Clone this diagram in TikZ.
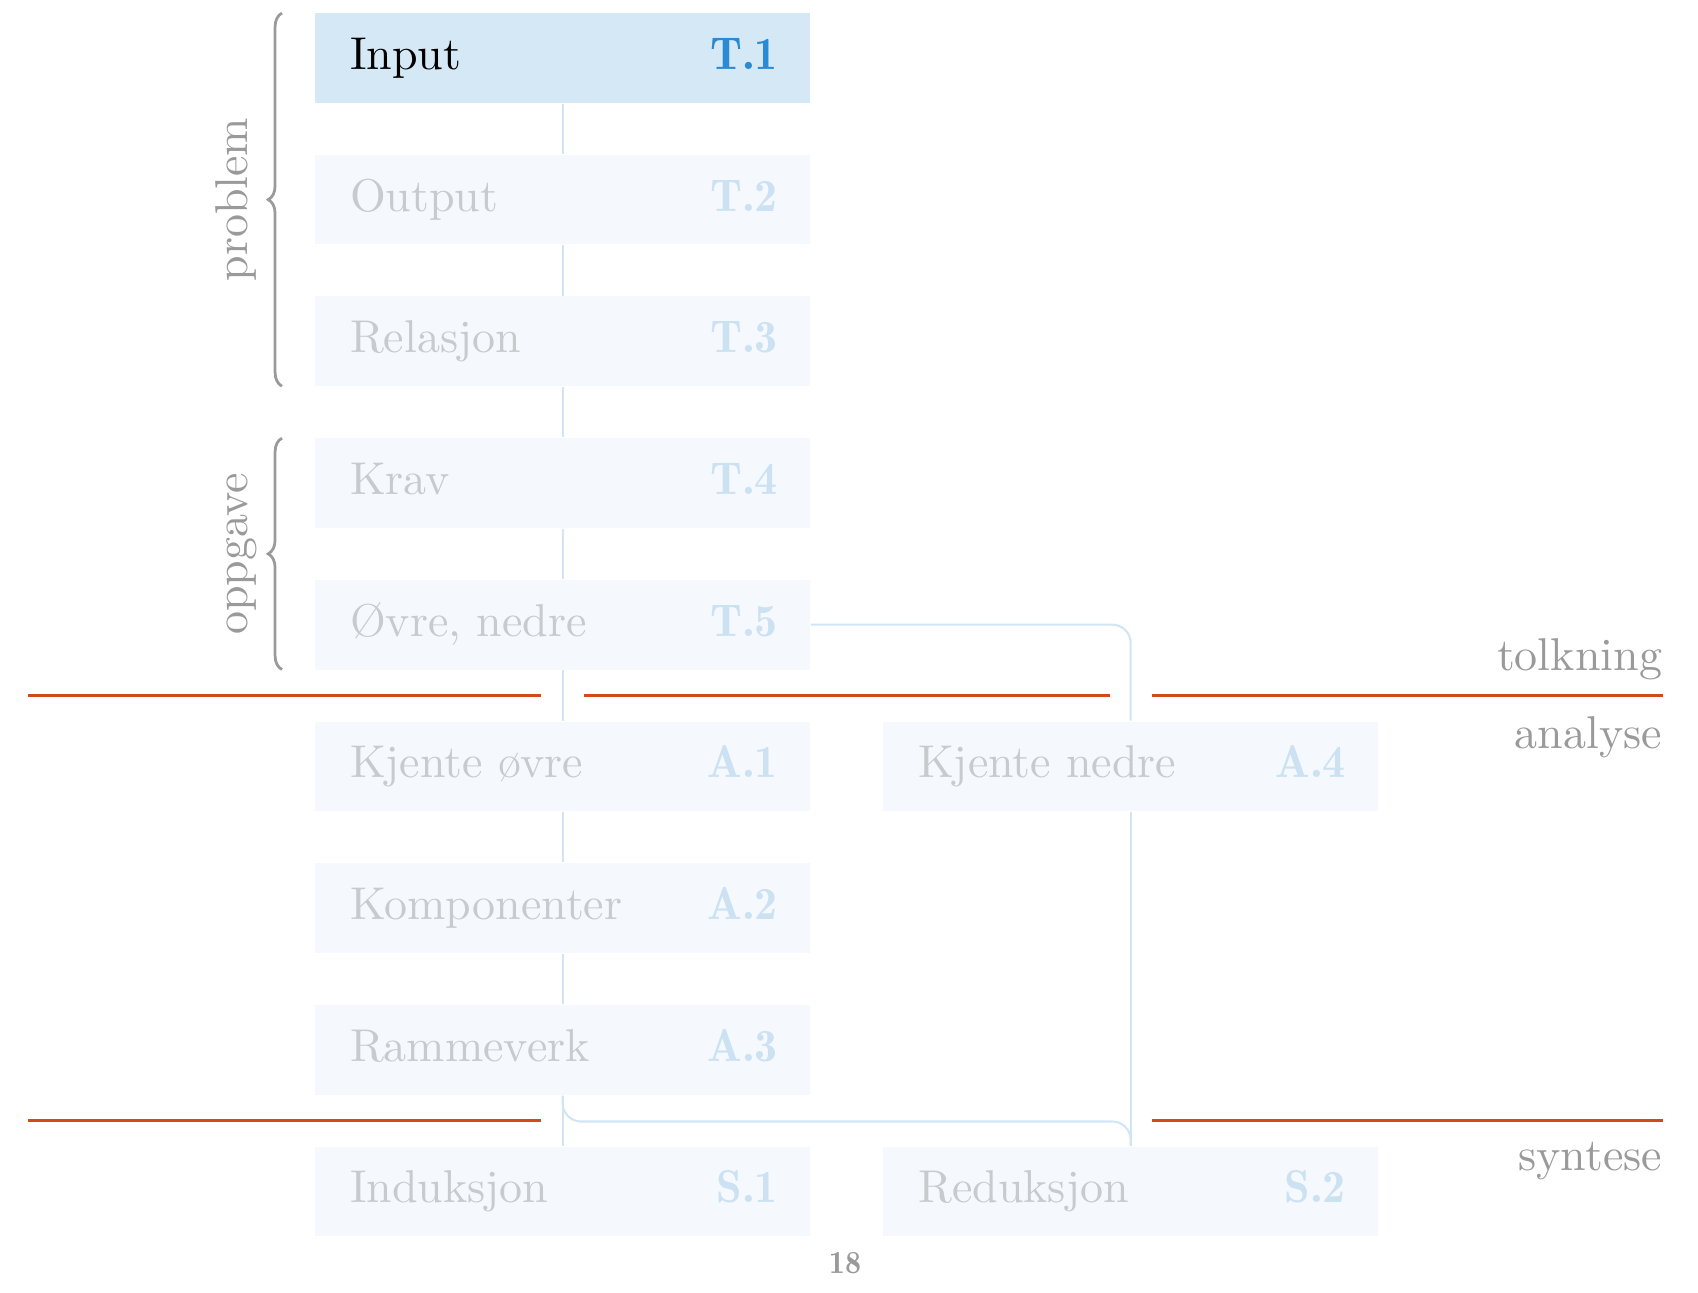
\documentclass[tikz,border=0pt]{standalone}
\usepackage{tikz}
\usetikzlibrary{decorations.pathreplacing}
\definecolor{activefill}{HTML}{D5E8F6}
\definecolor{activetag}{HTML}{2A8AD4}
\definecolor{idlefill}{HTML}{F5F9FD}
\definecolor{idletext}{HTML}{C8CBCE}
\definecolor{idletag}{HTML}{CCE2F3}
\definecolor{linkblue}{HTML}{D2E5F5}
\definecolor{cutred}{HTML}{D14A18}
\definecolor{labelgray}{HTML}{9A9A9A}
\tikzstyle{stepbox}=[rectangle, minimum width=107.6pt, minimum height=19.5pt, inner sep=0pt]
\tikzstyle{idle}=[stepbox, fill=idlefill]
\tikzstyle{active}=[stepbox, fill=activefill]
\tikzstyle{title}=[anchor=west, inner sep=0pt, text height=7pt, text depth=2pt, xshift=7.6pt]
\tikzstyle{tag}=[anchor=east, inner sep=0pt, text height=7pt, text depth=2pt, xshift=-7pt, font=\fontseries{b}\selectfont]
\tikzstyle{idletitle}=[title, text=idletext]
\tikzstyle{idletag}=[tag, text=idletag]
\tikzstyle{link}=[draw=linkblue, line width=0.45pt, rounded corners=4pt]
\tikzstyle{cut}=[draw=cutred, line width=0.65pt]
\tikzstyle{phase}=[anchor=base east, inner sep=0pt, text=labelgray]
\tikzstyle{group}=[draw=labelgray, line width=0.6pt, decorate, decoration={brace, amplitude=3pt}]

\begin{document}
\begin{tikzpicture}[x=1pt, y=-1pt]
\useasboundingbox (0,0) rectangle (369.13,280.87);
% tolkning
\node[active] (T1) at (122.3,12.6){};
\node[title] (T1t) at (T1.west){Input};
\node[tag, text=activetag] (T1l) at (T1.east){T.1};
\node[idle] (T2) at (122.3,43.4){};
\node[idletitle] (T2t) at (T2.west){Output};
\node[idletag] (T2l) at (T2.east){T.2};
\node[idle] (T3) at (122.3,74.2){};
\node[idletitle] (T3t) at (T3.west){Relasjon};
\node[idletag] (T3l) at (T3.east){T.3};
\node[idle] (T4) at (122.3,105.0){};
\node[idletitle] (T4t) at (T4.west){Krav};
\node[idletag] (T4l) at (T4.east){T.4};
\node[idle] (T5) at (122.3,135.8){};
\node[idletitle] (T5t) at (T5.west){Øvre, nedre};
\node[idletag] (T5l) at (T5.east){T.5};
% analyse
\node[idle] (A1) at (122.3,166.6){};
\node[idletitle] (A1t) at (A1.west){Kjente øvre};
\node[idletag] (A1l) at (A1.east){A.1};
\node[idle] (A2) at (122.3,197.4){};
\node[idletitle] (A2t) at (A2.west){Komponenter};
\node[idletag] (A2l) at (A2.east){A.2};
\node[idle] (A3) at (122.3,228.2){};
\node[idletitle] (A3t) at (A3.west){Rammeverk};
\node[idletag] (A3l) at (A3.east){A.3};
\node[idle] (A4) at (245.8,166.6){};
\node[idletitle] (A4t) at (A4.west){Kjente nedre};
\node[idletag] (A4l) at (A4.east){A.4};
% syntese
\node[idle] (S1) at (122.3,259.0){};
\node[idletitle] (S1t) at (S1.west){Induksjon};
\node[idletag] (S1l) at (S1.east){S.1};
\node[idle] (S2) at (245.8,259.0){};
\node[idletitle] (S2t) at (S2.west){Reduksjon};
\node[idletag] (S2l) at (S2.east){S.2};
% connectors
\draw[link](T1) -- (T2);
\draw[link](T2) -- (T3);
\draw[link](T3) -- (T4);
\draw[link](T4) -- (T5);
\draw[link](T5) -- (A1);
\draw[link](A1) -- (A2);
\draw[link](A2) -- (A3);
\draw[link](A3) -- (S1);
\draw[link](T5.east) -| (A4.north);
\draw[link](A4) -- (S2);
\draw[link](A3.south) -- +(0,5.65) -| (S2.north);
% phase lines
\draw[cut] (6.1,151.15) -- (117.7,151.15);
\draw[cut] (126.9,151.15) -- (241.2,151.15);
\draw[cut] (250.4,151.15) -- (361.5,151.15);
\draw[cut] (6.1,243.6) -- (117.7,243.6);
\draw[cut] (250.4,243.6) -- (361.5,243.6);
\node[phase] (tolk) at (361.5,145.8){tolkning};
\node[phase] (anal) at (361.5,162.8){analyse};
\node[phase] (synt) at (361.5,254.5){syntese};
% groups
\draw[group] (61.3,83.95) -- (61.3,2.85);
\node[rotate=90, anchor=base, text=labelgray, inner sep=0pt] (prob) at (53.9,43.4){problem};
\draw[group] (61.3,145.55) -- (61.3,95.25);
\node[rotate=90, anchor=base, text=labelgray, inner sep=0pt] (oppg) at (53.9,120.4){oppgave};
\node[text=labelgray, font=\scriptsize\fontseries{b}\selectfont, inner sep=0pt] (page) at (183.7,274.6){18};
\end{tikzpicture}
\end{document}
